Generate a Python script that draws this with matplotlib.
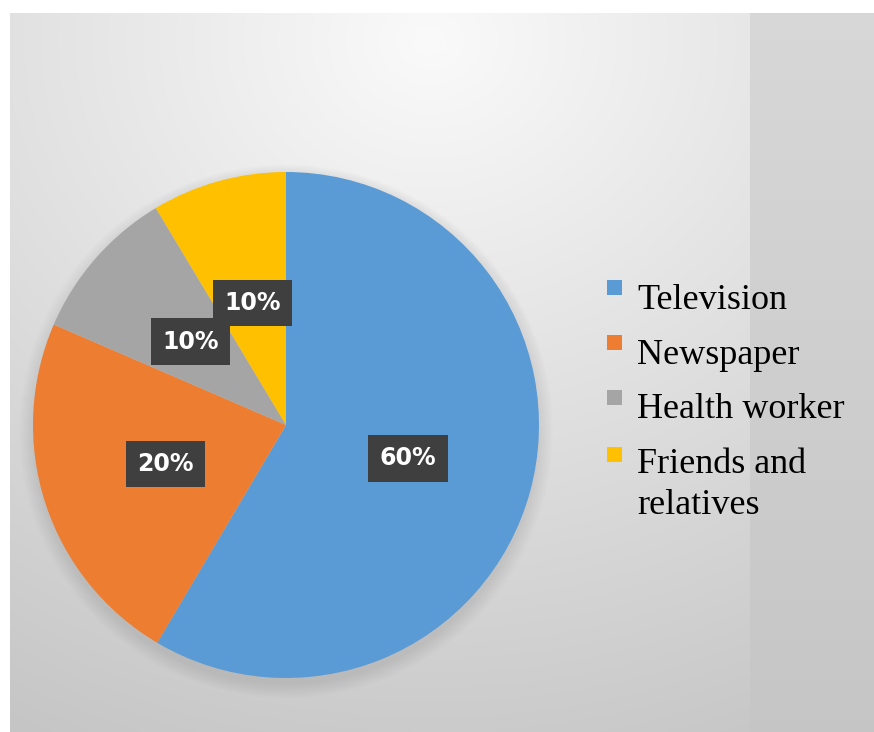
import matplotlib
matplotlib.use("Agg")
import matplotlib.pyplot as plt
import numpy as np
from matplotlib.patches import Rectangle, Circle
from matplotlib.legend_handler import HandlerPatch

# data (wedge sizes, labels as printed)
sources = ["Television", "Newspaper", "Health worker", "Friends and\nrelatives"]
shares = [58.5, 23.0, 9.9, 8.6]
pct_labels = ["60%", "20%", "10%", "10%"]
colors = ["#5B9BD5", "#ED7D31", "#A5A5A5", "#FFC000"]

W, H = 874, 732
fig = plt.figure(figsize=(W / 100, H / 100), dpi=100)

# background: white frame + soft gray gradient, darker strip at the right
yy, xx = np.mgrid[0:H, 0:W]
d = np.sqrt(((xx - 430) / 1.15) ** 2 + (yy - 40) ** 2)
bg = np.clip(250 - 0.068 * d, 195, 250)
strip = xx >= 750
bg[strip] = np.clip(216 - 0.025 * yy[strip], 196, 216)
bg[(xx < 10) | (yy < 13)] = 255
bg_ax = fig.add_axes([0, 0, 1, 1])
bg_ax.imshow(np.dstack([bg, bg, bg]) / 255.0, extent=[0, W, H, 0], aspect="auto")
bg_ax.axis("off")

R = 253
ax = fig.add_axes([(286 - R) / W, (H - 425 - R) / H, 2 * R / W, 2 * R / H])
ax.set_facecolor("none")

# soft shadow, a bit lower than the pie
for i in range(10):
    ax.add_patch(Circle((0, -0.025), 1 + 0.006 * i, color="#8a8a8a", alpha=0.022,
                        lw=0, zorder=0, clip_on=False))

wedges, _ = ax.pie(shares, colors=colors, startangle=90, counterclock=False,
                   wedgeprops=dict(linewidth=0))
for w, lab in zip(wedges, pct_labels):
    ang = np.deg2rad((w.theta1 + w.theta2) / 2)
    ax.text(0.5 * np.cos(ang), 0.5 * np.sin(ang), lab, ha="center", va="center",
            color="white", fontsize=17, fontweight="bold", family="DejaVu Sans",
            bbox=dict(boxstyle="square,pad=0.48", fc="#3f3f3f", ec="none"))
ax.set_xlim(-1, 1)
ax.set_ylim(-1, 1)
ax.set_aspect("equal")
ax.axis("off")


def square_handle(legend, orig_handle, xdescent, ydescent, width, height, fontsize):
    lift = 0.28 * fontsize
    if orig_handle is wedges[-1]:
        lift += 0.6 * fontsize
    return Rectangle((-xdescent, -ydescent + lift), width, width)


leg = fig.legend(
    wedges, sources, loc="upper left", bbox_to_anchor=(607 / W, 1 - 284 / H),
    frameon=False, prop=dict(family="Liberation Serif", size=26),
    handlelength=0.42, handleheight=0.42, handletextpad=0.42,
    labelspacing=0.6, borderpad=0, borderaxespad=0,
    handler_map={type(wedges[0]): HandlerPatch(patch_func=square_handle)},
)
leg.get_texts()[-1].set_linespacing(1.3)

fig.savefig("out.png", dpi=100)
